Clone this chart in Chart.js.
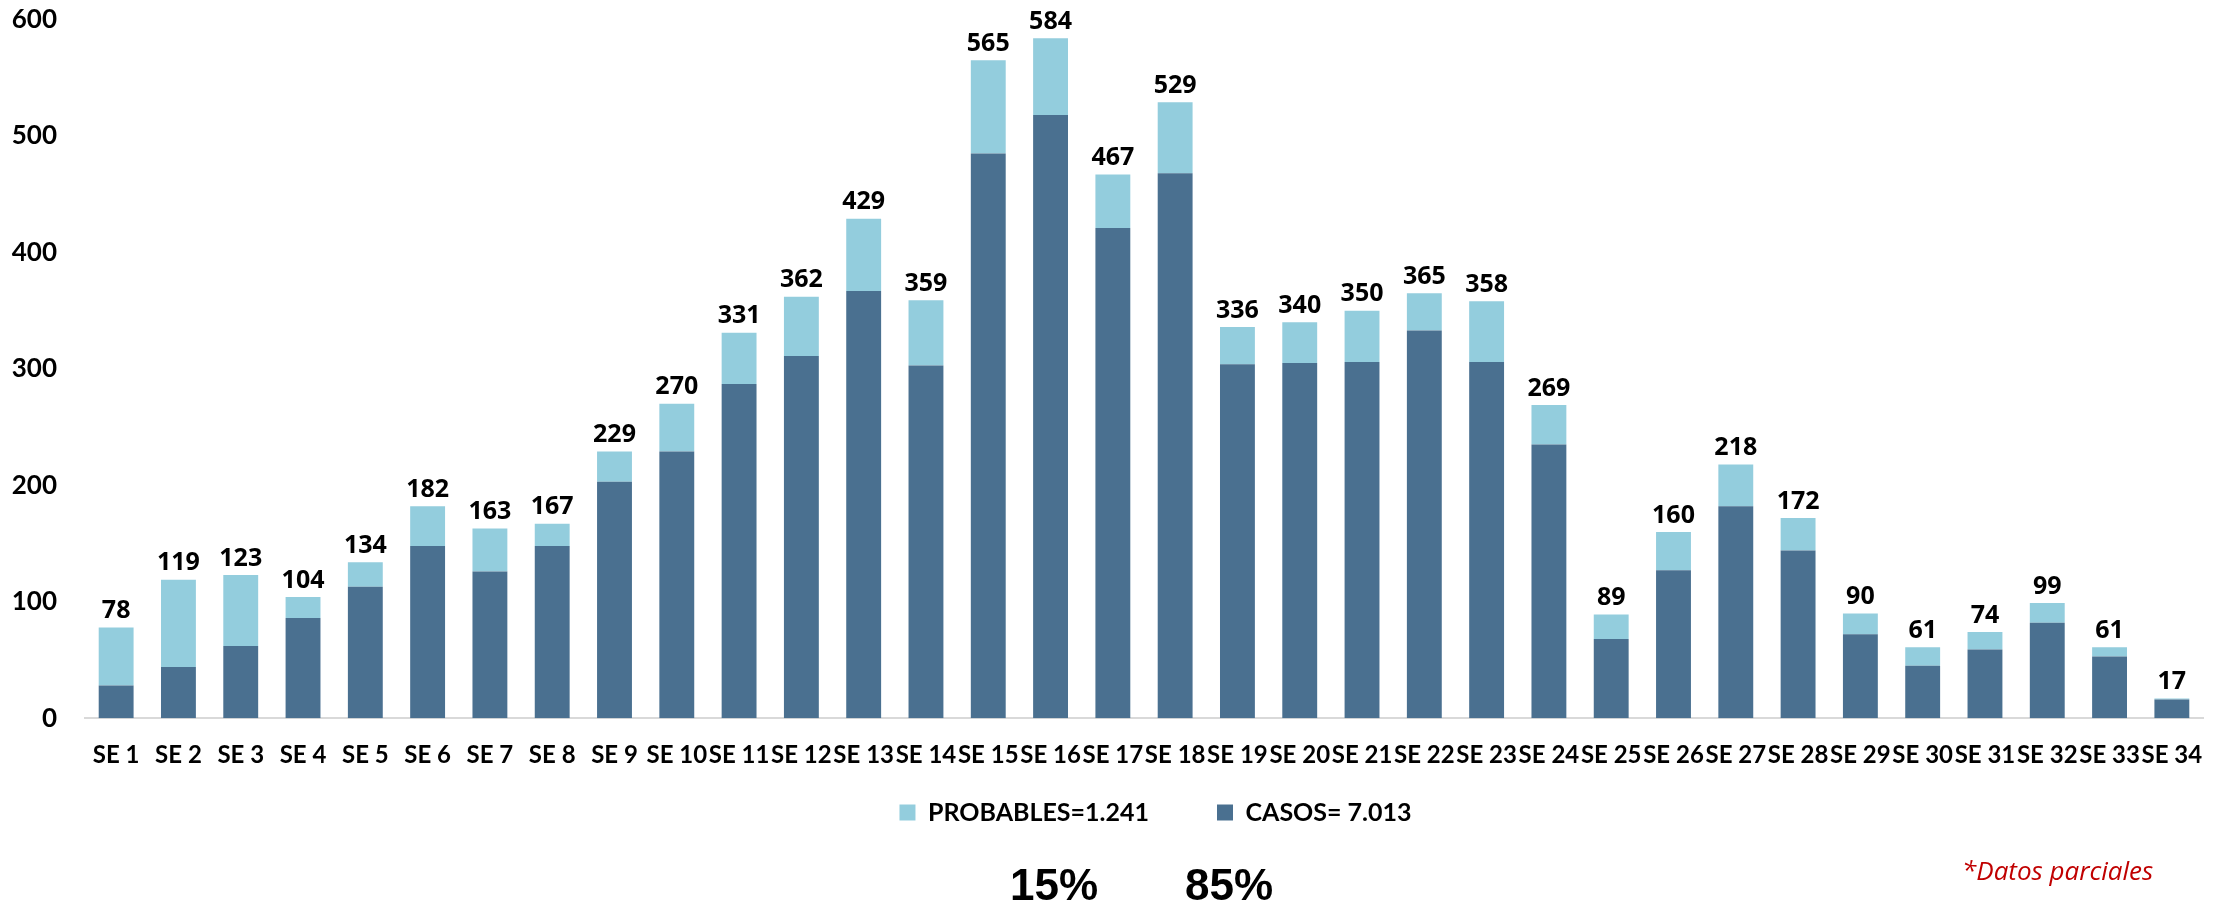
<!DOCTYPE html>
<html>
<head>
<meta charset="utf-8">
<script src="https://cdn.jsdelivr.net/npm/chart.js@4.4.0/dist/chart.umd.min.js"></script>
<style>
  html, body { margin: 0; padding: 0; background: #fff; overflow: hidden; }
  #wrap { position: absolute; left: 0; top: 0; width: 2228px; height: 907px; }
  .pct { position: absolute; font-family: 'Liberation Sans', Arial, sans-serif; font-weight: 700; font-size: 44px; color: #000; line-height: 1; }
  #nota { position: absolute; left: 1962px; top: 852px; font-family: 'Open Sans', sans-serif; font-style: italic; font-size: 26px; color: #c00000; }
</style>
</head>
<body>
<div id="wrap"><canvas id="grafico"></canvas></div>
<div class="pct" style="left:1010px; top:863px;">15%</div>
<div class="pct" style="left:1185px; top:863px;">85%</div>
<div id="nota">*Datos parciales</div>

<script>
// Semanas epidemiológicas
const semanas = ['SE 1','SE 2','SE 3','SE 4','SE 5','SE 6','SE 7','SE 8','SE 9','SE 10',
  'SE 11','SE 12','SE 13','SE 14','SE 15','SE 16','SE 17','SE 18','SE 19','SE 20',
  'SE 21','SE 22','SE 23','SE 24','SE 25','SE 26','SE 27','SE 28','SE 29','SE 30',
  'SE 31','SE 32','SE 33','SE 34'];

// Casos confirmados (parte oscura)
const casos = [28, 44, 62, 86, 113, 148, 126, 148, 203, 229,
  287, 311, 367, 303, 485, 518, 421, 468, 304, 305,
  306, 333, 306, 235, 68, 127, 182, 144, 72, 45,
  59, 82, 53, 16];

// Probables (parte clara)
const probables = [50, 75, 61, 18, 21, 34, 37, 19, 26, 41,
  44, 51, 62, 56, 80, 66, 46, 61, 32, 35,
  44, 32, 52, 34, 21, 33, 36, 28, 18, 16,
  15, 17, 8, 1];

// Totales que aparecen encima de cada barra
const totales = [78, 119, 123, 104, 134, 182, 163, 167, 229, 270,
  331, 362, 429, 359, 565, 584, 467, 529, 336, 340,
  350, 365, 358, 269, 89, 160, 218, 172, 90, 61,
  74, 99, 61, 17];

const yTicks = [0, 100, 200, 300, 400, 500, 600];

const COLOR_CASOS = '#4a7090';
const COLOR_PROB = '#93cddd';

// Etiquetas con el total arriba de cada barra apilada
const totalLabels = {
  id: 'totalLabels',
  afterDatasetsDraw(chart) {
    const { ctx } = chart;
    const meta = chart.getDatasetMeta(1);
    ctx.save();
    ctx.font = "700 25px 'Open Sans', sans-serif";
    ctx.fillStyle = '#000';
    ctx.textAlign = 'center';
    ctx.textBaseline = 'bottom';
    meta.data.forEach((bar, i) => {
      ctx.fillText(totales[i], bar.x, bar.y - 4);
    });
    ctx.restore();
  }
};

// La leyenda del original queda más arriba y algo a la derecha del centro
const legendShift = {
  id: 'legendShift',
  afterLayout(chart) {
    const lg = chart.legend;
    if (!lg) return;
    const dy = 732 - lg.top;
    lg.top += dy;
    lg.bottom += dy;
    lg.left += 54;
    lg.right += 54;
  }
};

new Chart(document.getElementById('grafico'), {
  type: 'bar',
  data: {
    labels: semanas,
    datasets: [
      {
        label: 'CASOS= 7.013',
        data: casos,
        backgroundColor: COLOR_CASOS,
        barPercentage: 0.56,
        categoryPercentage: 1
      },
      {
        label: 'PROBABLES=1.241',
        data: probables,
        backgroundColor: COLOR_PROB,
        barPercentage: 0.56,
        categoryPercentage: 1
      }
    ]
  },
  options: {
    responsive: true,
    maintainAspectRatio: false,
    animation: false,
    layout: { padding: { top: 0, right: 25, bottom: 11, left: 0 } },
    plugins: {
      legend: {
        position: 'bottom',
        reverse: true,
        labels: {
          boxWidth: 16,
          boxHeight: 16,
          padding: 68,
          color: '#000',
          font: { family: "'Lato', sans-serif", size: 25, weight: '700' }
        }
      },
      tooltip: { enabled: false }
    },
    scales: {
      x: {
        stacked: true,
        grid: { display: false, drawTicks: false },
        border: { display: true, color: '#d9d9d9', width: 2 },
        ticks: {
          padding: 23,
          color: '#000',
          maxRotation: 0,
          autoSkip: false,
          font: { family: "'Lato', sans-serif", size: 24, weight: '700' }
        }
      },
      y: {
        stacked: true,
        min: 0,
        max: 600,
        afterBuildTicks: s => { s.ticks = yTicks.map(v => ({ value: v })); },
        afterFit: s => { s.width = 85; },
        grid: { display: false, drawTicks: true, tickLength: 24 },
        border: { display: false },
        ticks: {
          padding: 4,
          color: '#000',
          font: { family: "'Lato', sans-serif", size: 26, weight: '700' }
        }
      }
    }
  },
  plugins: [totalLabels, legendShift]
});
</script>
</body>
</html>
